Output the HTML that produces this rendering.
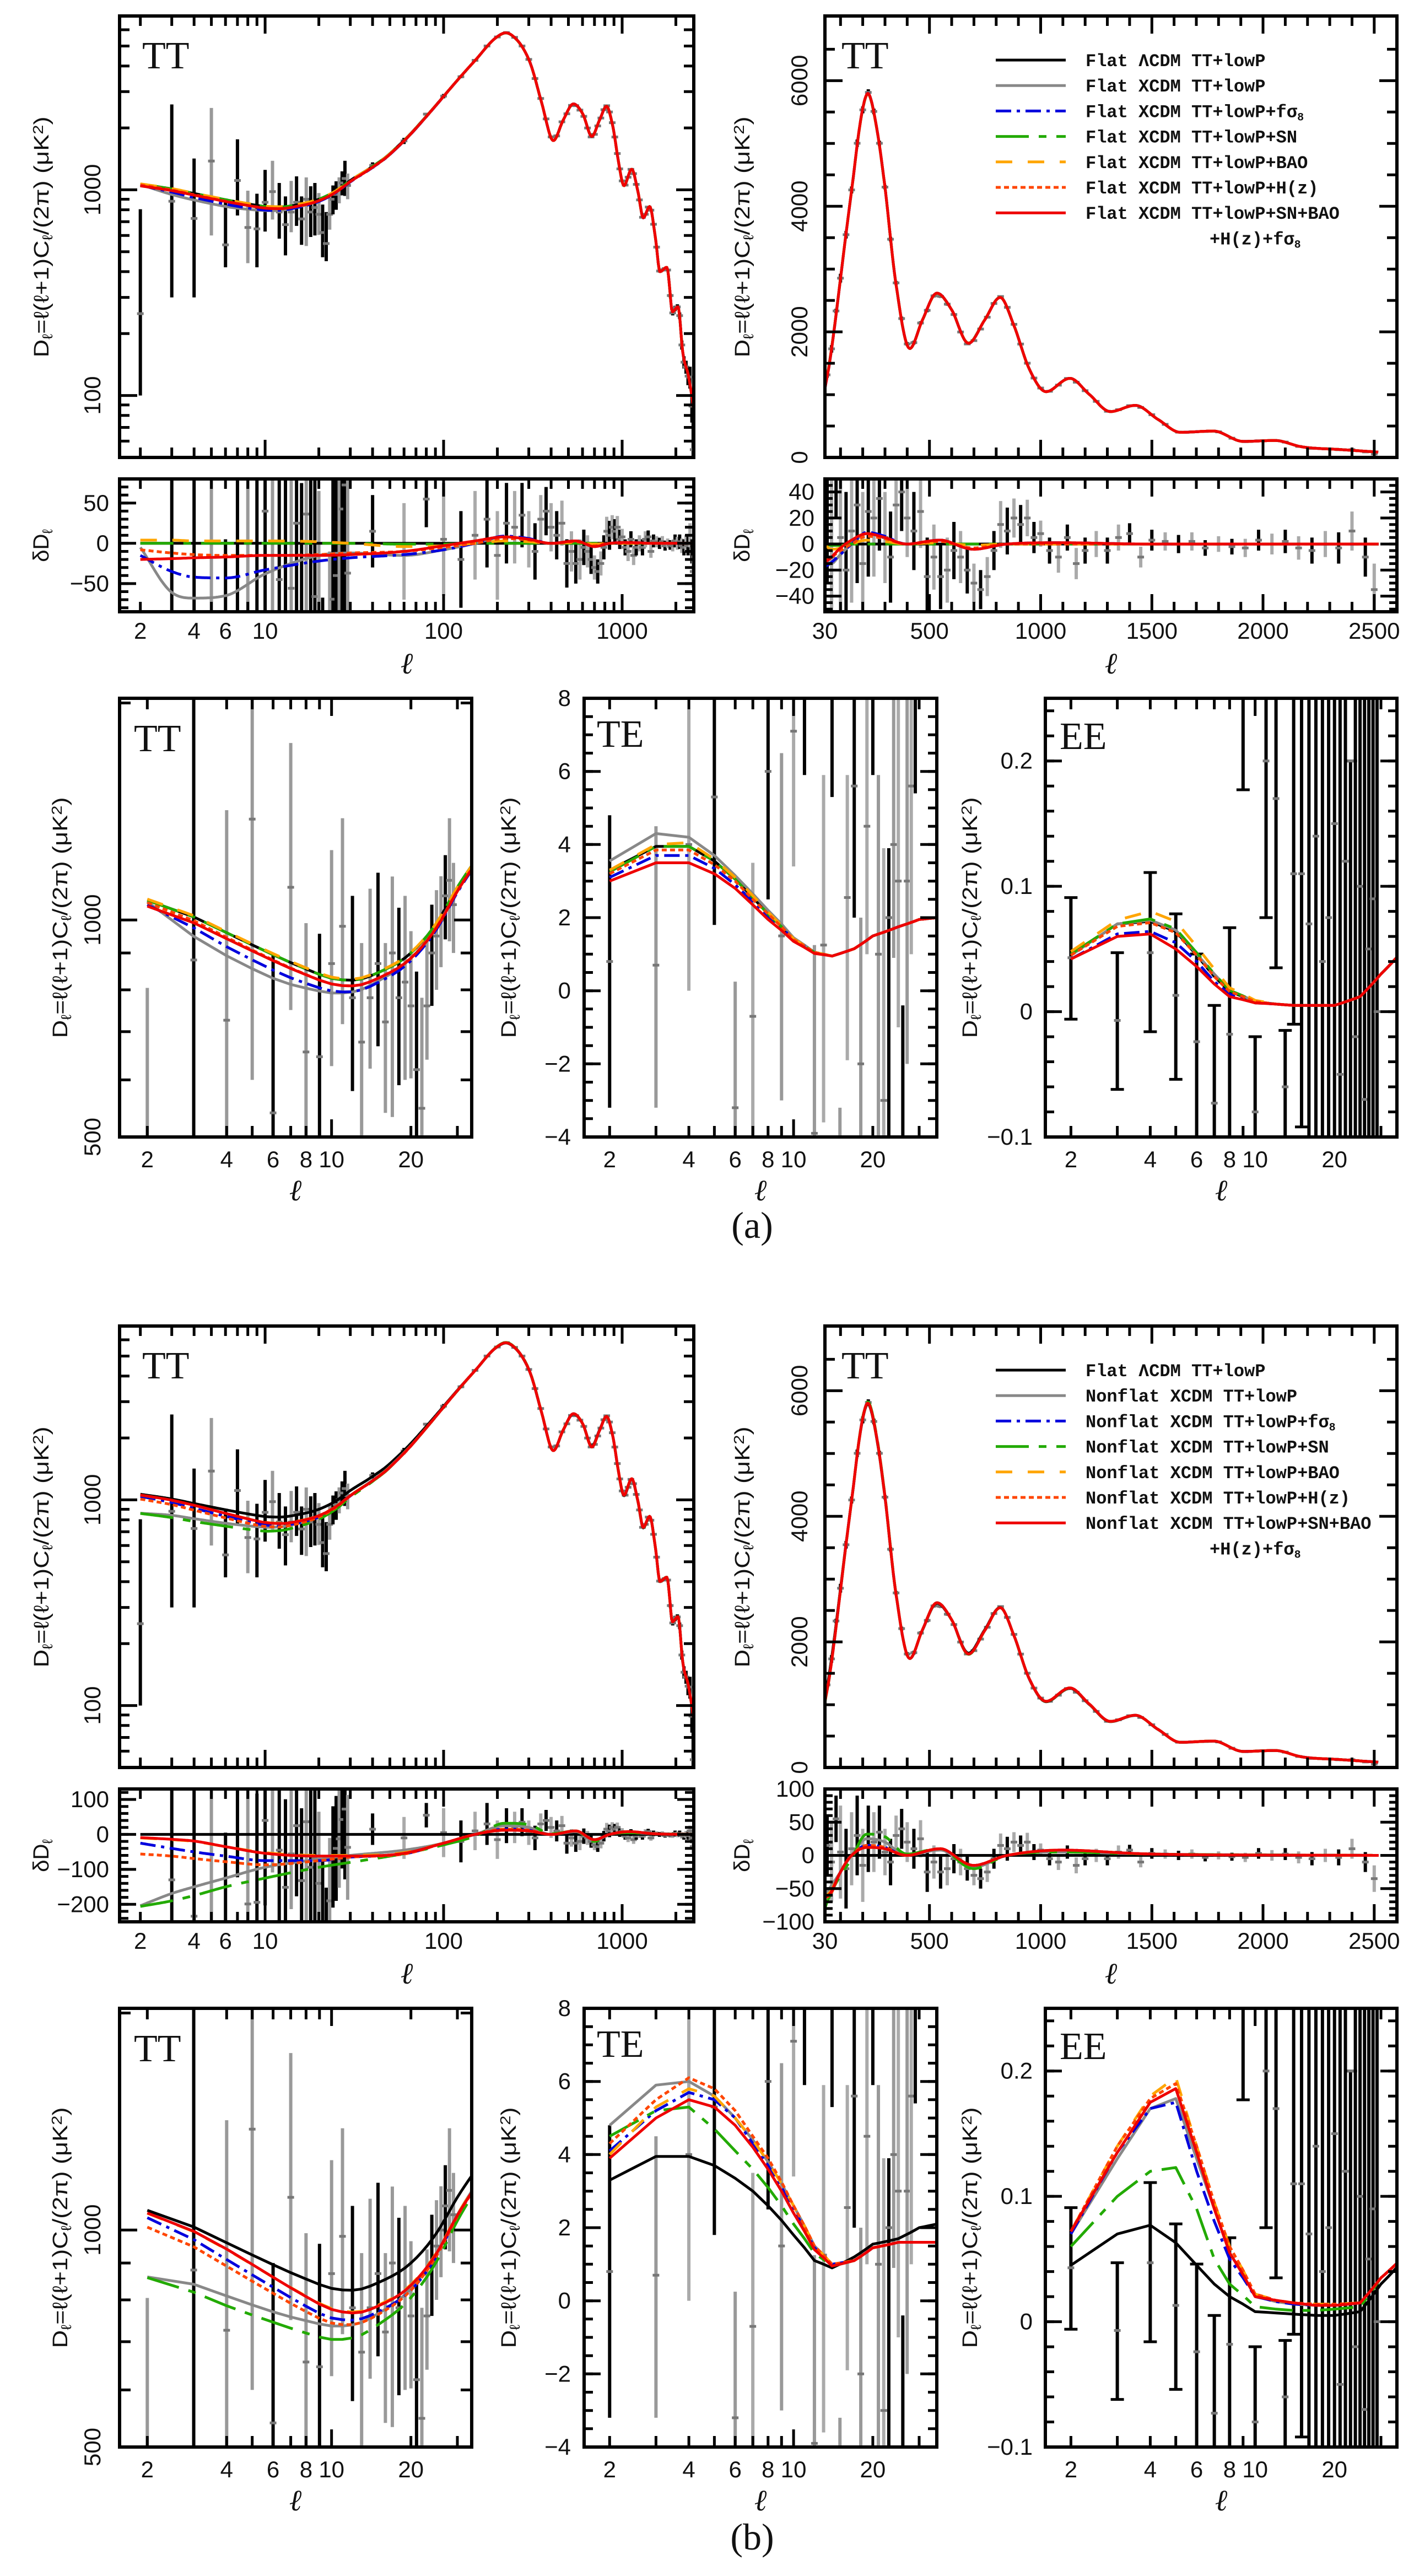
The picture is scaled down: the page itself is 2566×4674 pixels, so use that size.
<!DOCTYPE html>
<html><head><meta charset="utf-8">
<style>html,body{margin:0;padding:0;background:#fff;width:2566px;height:4674px;overflow:hidden}svg{display:block}</style>
</head><body>
<svg id="fig" xmlns="http://www.w3.org/2000/svg" width="2566" height="4674" viewBox="0 0 2566 4674">
<rect width="2566" height="4674" fill="#fff"/>
</svg>
<script>
// ---------------- DATA ----------------
const BASE_L = [2,3,4,6,8,10,12,15,20,25,30,40,50,70,100,150,200,223,260,300,350,412,470,534,600,676,750,818,880,950,1025,1132,1220,1314,1426,1530,1629,1778,1912,2054,2176,2350,2520];
const BASE_D = [1065,1010,960,895,855,830,825,845,900,990,1110,1300,1500,2000,2850,4250,5550,5790,5300,4300,2750,1735,2200,2614,2350,1821,2200,2548,2100,1400,1047,1259,1000,730,829,600,400,420,255,270,168,125,85];
const RES_L = [2,3,4,6,10,20,30,60,100,150,220,300,400,550,700,850,1100,1500,2520];
const RA_lcdm = [0,0,0,0,0,0,0,0,0,0,0,0,0,0,0,0,0,0,0];
const RA_xcdm = [-5,-61,-68,-65,-38,-15,-12,-15,-8,0,8,5,0,3,-4,0,1,0,0];
const RA_fs8  = [-15,-35,-42,-43,-33,-22,-18,-14,-8,0,9,6,0,3,-4,0,1,0,0];
const RA_sn   = [0,0,0,0,0,0,0,-1,-1,0,0,0,0,0,0,0,0,0,0];
const RA_bao  = [4,4,3,3,3,2,0,-4,-3,0,3,2,0,1,-1,0,0,0,0];
const RA_hz   = [-8,-12,-14,-15,-15,-14,-12,-10,-5,0,6,4,0,2,-3,0,0,0,0];
const RA_all  = [-20,-19,-18,-17,-15,-15,-14,-10,-3,3,8,5,0,3,-4,0,1,0,0];
const RB_lcdm = [0,0,0,0,0,0,0,0,0,0,0,0,0,0,0,0,0,0,0];
const RB_xcdm = [-204,-169,-150,-125,-94,-71,-60,-45,-25,0,25,20,0,8,-18,0,5,2,0];
const RB_fs8  = [-25,-40,-50,-62,-75,-75,-65,-56,-25,0,15,12,0,10,-15,0,8,2,0];
const RB_sn   = [-206,-190,-175,-150,-125,-94,-80,-55,-30,-5,32,28,2,10,-20,0,5,2,0];
const RB_bao  = [-10,-15,-20,-35,-52,-60,-60,-52,-25,0,12,10,0,10,-15,0,8,2,0];
const RB_hz   = [-56,-62,-69,-78,-87,-75,-65,-56,-25,0,15,12,0,10,-15,0,8,2,0];
const RB_all  = [-9,-14,-19,-35,-54,-62,-62,-54,-25,0,12,10,0,10,-15,0,8,2,0];
const RD_L = [40,60,80,100,125,150,175,200,225,250,275,300,325,350,375,400,430,460,490,520,550,580,610,640,670,700,730,760,790,820,850,880,910,940,970,1000,1040,1080,1120,1160,1200,1250,1300,1350,1400,1450,1500,1560,1620,1680,1740,1800,1860,1920,1980,2040,2100,2160,2220,2280,2340,2400,2460,2500];
const RD_V = [15,-10,55,5,-20,10,30,-15,25,20,35,5,-10,30,40,20,10,25,-25,-10,-25,-20,-5,-10,-20,-30,-35,-25,-5,15,10,20,15,20,5,8,-5,-10,5,-15,-5,0,-5,5,8,-10,3,2,0,2,-3,0,-2,-3,3,0,2,-3,-5,0,-3,10,-10,-35];
const RD_E = [45,60,35,70,60,55,60,55,50,45,40,35,35,30,30,30,30,28,30,25,25,25,22,20,18,15,15,15,15,18,18,15,15,14,12,10,10,12,10,12,10,10,10,10,8,8,8,7,7,7,6,6,6,7,8,8,9,9,10,10,12,15,15,20];
const TL_L  = [2,3,4,5,6,7,8,9,10,11,12,13,14,15,16,17,18,19,20,21,22,23,24,25,26,27,28,29];
const TL_V  = [250,880,726,1380,540,1110,656,646,870,980,780,677,780,870,722,900,780,820,760,620,548,760,900,950,1000,1080,1135,1050];
const TL_LO = [100,300,300,600,420,750,440,420,627,717,579,480,622,668,540,533,590,600,603,470,450,640,760,800,860,940,934,900];
const TL_HI = [805,2600,1420,2500,900,1760,990,957,1250,1384,1080,929,1105,1163,929,1149,1040,1080,965,848,780,940,1050,1100,1150,1230,1384,1200];
const TE_L  = [2,3,4,5,6,7,8,9,10,11,12,13,14,15,16,17,18,19,20,21,22,23,24,25,26,27,28,29];
const TE_V  = [0.8,0.7,4.0,5.3,-3.2,-0.7,6.0,1.5,7.1,9.5,-3.9,1.25,8.5,-5,2.55,5.6,-2,4.5,8,1,-3,2,4,3,-4,3,5.6,8];
const TE_LO = [-3.2,-3.2,0.0,1.8,-5,-5,2.5,-3,3.4,5.9,-6,-3.6,5.3,-8,-1.9,2,-6,1,5.9,-4,-6,-5,0.9,-1,-6,-2,1,5.4];
const TE_HI = [4.8,4.5,7.7,9,0.25,3.5,9,6.5,9,12,1.25,5.9,12,-3.2,5.9,10,2,10,12,5.9,3.9,3.9,10,10,-0.4,10,10,12];
const EE_L  = [2,3,4,5,6,7,8,9,10,11,12,13,14,15,16,17,18,19,20,21,22,23,24,25,26,27,28,29];
const EE_V  = [0.043,-0.007,0.047,0.013,-0.024,-0.073,-0.018,0.3,-0.08,0.2,0.17,-0.06,0.11,0.11,0.07,0.14,0.04,0.075,0.15,-0.05,0.12,0.2,-0.02,0.1,-0.07,0.05,0.09,0.0];
const EE_LO = [-0.006,-0.062,-0.016,-0.054,-0.11,-0.15,-0.12,0.177,-0.2,0.075,0.035,-0.2,-0.01,-0.092,-0.15,-0.12,-0.2,-0.25,-0.1,-0.3,-0.2,-0.15,-0.3,-0.2,-0.4,-0.3,-0.3,-0.35];
const EE_HI = [0.091,0.047,0.111,0.078,0.046,0.005,0.067,0.45,-0.02,0.35,0.3,-0.015,0.3,0.3,0.3,0.35,0.35,0.35,0.4,0.4,0.4,0.2,0.4,0.4,0.45,0.5,0.5,0.5];
const PL = [2,3,4,5,6,7,8,10,12,14,17,20,25,30,35];
const TEA_lcdm = [3.3,3.95,3.95,3.55,3.05,2.55,2.1,1.4,1.05,0.95,1.15,1.5,1.75,1.95,2.0];
const TEA_xcdm = [3.55,4.3,4.2,3.7,3.15,2.65,2.2,1.45,1.05,0.95,1.15,1.5,1.75,1.95,2.0];
const TEA_fs8  = [3.1,3.7,3.7,3.35,2.9,2.45,2.05,1.4,1.05,0.95,1.15,1.5,1.75,1.95,2.0];
const TEA_sn   = [3.25,3.95,3.95,3.55,3.05,2.55,2.1,1.4,1.05,0.95,1.15,1.5,1.75,1.95,2.0];
const TEA_bao  = [3.3,4.0,4.05,3.6,3.1,2.6,2.15,1.42,1.05,0.95,1.15,1.5,1.75,1.95,2.0];
const TEA_hz   = [3.2,3.85,3.85,3.45,3.0,2.5,2.1,1.4,1.05,0.95,1.15,1.5,1.75,1.95,2.0];
const TEA_all  = [3.0,3.5,3.5,3.2,2.8,2.35,1.95,1.35,1.02,0.95,1.15,1.5,1.75,1.95,2.0];
const TEB_lcdm = [3.3,3.95,3.95,3.7,3.35,3.0,2.6,1.8,1.1,0.9,1.2,1.55,1.7,2.0,2.1];
const TEB_xcdm = [4.8,5.9,6.0,5.6,5.0,4.4,3.8,2.6,1.5,1.0,1.1,1.45,1.6,1.6,1.6];
const TEB_fs8  = [4.1,5.2,5.7,5.5,5.0,4.3,3.7,2.5,1.45,1.0,1.1,1.45,1.6,1.6,1.6];
const TEB_sn   = [4.5,5.2,5.3,4.7,4.1,3.6,3.1,2.1,1.3,0.95,1.1,1.45,1.6,1.6,1.6];
const TEB_bao  = [4.0,5.3,5.8,5.6,5.0,4.4,3.8,2.6,1.5,1.0,1.1,1.45,1.6,1.6,1.6];
const TEB_hz   = [4.3,5.5,6.1,5.8,5.2,4.5,3.9,2.6,1.5,1.0,1.1,1.45,1.6,1.6,1.6];
const TEB_all  = [3.9,5.0,5.5,5.3,4.8,4.2,3.6,2.4,1.4,0.95,1.1,1.45,1.6,1.6,1.6];
const EEA_lcdm = [0.045,0.07,0.072,0.064,0.045,0.028,0.016,0.008,0.006,0.005,0.005,0.005,0.012,0.03,0.045];
const EEA_xcdm = [0.045,0.07,0.073,0.065,0.046,0.03,0.017,0.008,0.006,0.005,0.005,0.005,0.012,0.03,0.045];
const EEA_fs8  = [0.042,0.062,0.064,0.055,0.04,0.024,0.014,0.007,0.006,0.005,0.005,0.005,0.012,0.03,0.045];
const EEA_sn   = [0.046,0.07,0.074,0.066,0.047,0.03,0.017,0.008,0.006,0.005,0.005,0.005,0.012,0.03,0.045];
const EEA_bao  = [0.048,0.073,0.08,0.072,0.052,0.034,0.019,0.009,0.006,0.005,0.005,0.005,0.012,0.03,0.045];
const EEA_hz   = [0.045,0.068,0.071,0.063,0.045,0.028,0.016,0.008,0.006,0.005,0.005,0.005,0.012,0.03,0.045];
const EEA_all  = [0.042,0.06,0.062,0.05,0.036,0.022,0.012,0.007,0.006,0.005,0.005,0.005,0.012,0.03,0.045];
const EEB_lcdm = [0.045,0.07,0.077,0.063,0.045,0.03,0.02,0.008,0.007,0.006,0.005,0.005,0.008,0.03,0.045];
const EEB_xcdm = [0.07,0.13,0.17,0.178,0.13,0.09,0.055,0.02,0.016,0.014,0.013,0.013,0.015,0.035,0.048];
const EEB_fs8  = [0.07,0.135,0.17,0.175,0.12,0.08,0.05,0.02,0.016,0.014,0.013,0.013,0.015,0.035,0.048];
const EEB_sn   = [0.06,0.1,0.12,0.123,0.09,0.05,0.03,0.012,0.01,0.009,0.009,0.01,0.012,0.035,0.048];
const EEB_bao  = [0.072,0.14,0.18,0.195,0.14,0.095,0.06,0.022,0.017,0.015,0.014,0.014,0.015,0.035,0.048];
const EEB_hz   = [0.072,0.14,0.178,0.19,0.14,0.095,0.06,0.022,0.017,0.015,0.014,0.014,0.015,0.035,0.048];
const EEB_all  = [0.072,0.135,0.175,0.186,0.135,0.09,0.055,0.02,0.017,0.015,0.013,0.013,0.015,0.035,0.048];
const LEG_A = ['Flat ΛCDM TT+lowP','Flat XCDM TT+lowP','Flat XCDM TT+lowP+fσ','Flat XCDM TT+lowP+SN','Flat XCDM TT+lowP+BAO','Flat XCDM TT+lowP+H(z)','Flat XCDM TT+lowP+SN+BAO'];
const LEG_B = ['Flat ΛCDM TT+lowP','Nonflat XCDM TT+lowP','Nonflat XCDM TT+lowP+fσ','Nonflat XCDM TT+lowP+SN','Nonflat XCDM TT+lowP+BAO','Nonflat XCDM TT+lowP+H(z)','Nonflat XCDM TT+lowP+SN+BAO'];
const TL_TOPL_X = [2,4,6,10,100,1000];
const TL_TOPR_X = [30,500,1000,1500,2000,2500];
const TL_BOT_X = [2,4,6,8,10,20];

// ---------------- STYLES ----------------
const MKEYS = ['lcdm','xcdm','fs8','sn','bao','hz','all'];
const STY = {
  lcdm:{c:'#000',d:null}, xcdm:{c:'#888',d:null}, fs8:{c:'#0000dd',d:'28 10 6 10'},
  sn:{c:'#22aa00',d:'60 18 14 18'}, bao:{c:'#ffa500',d:'30 28'}, hz:{c:'#ff4500',d:'9 6'}, all:{c:'#ee0000',d:null}
};
const RES = {a:{lcdm:RA_lcdm,xcdm:RA_xcdm,fs8:RA_fs8,sn:RA_sn,bao:RA_bao,hz:RA_hz,all:RA_all},
             b:{lcdm:RB_lcdm,xcdm:RB_xcdm,fs8:RB_fs8,sn:RB_sn,bao:RB_bao,hz:RB_hz,all:RB_all}};
const TEM = {a:{lcdm:TEA_lcdm,xcdm:TEA_xcdm,fs8:TEA_fs8,sn:TEA_sn,bao:TEA_bao,hz:TEA_hz,all:TEA_all},
             b:{lcdm:TEB_lcdm,xcdm:TEB_xcdm,fs8:TEB_fs8,sn:TEB_sn,bao:TEB_bao,hz:TEB_hz,all:TEB_all}};
const EEM = {a:{lcdm:EEA_lcdm,xcdm:EEA_xcdm,fs8:EEA_fs8,sn:EEA_sn,bao:EEA_bao,hz:EEA_hz,all:EEA_all},
             b:{lcdm:EEB_lcdm,xcdm:EEB_xcdm,fs8:EEB_fs8,sn:EEB_sn,bao:EEB_bao,hz:EEB_hz,all:EEB_all}};

// ---------------- HELPERS ----------------
const NS='http://www.w3.org/2000/svg';
const svg=document.getElementById('fig');
function mk(tag,attrs,parent){const e=document.createElementNS(NS,tag);for(const k in attrs)e.setAttribute(k,attrs[k]);(parent||svg).appendChild(e);return e;}
const defs=mk('defs',{});
function logS(d0,d1,r0,r1){const a=Math.log10(d0),b=Math.log10(d1);return v=>r0+(Math.log10(v)-a)/(b-a)*(r1-r0);}
function linS(d0,d1,r0,r1){return v=>r0+(v-d0)/(d1-d0)*(r1-r0);}
function mono(xs,ys){
  const n=xs.length,d=[],m=[];
  for(let i=0;i<n-1;i++)d[i]=(ys[i+1]-ys[i])/(xs[i+1]-xs[i]);
  m[0]=d[0];m[n-1]=d[n-2];
  for(let i=1;i<n-1;i++)m[i]=(d[i-1]*d[i]<=0)?0:(d[i-1]+d[i])/2;
  for(let i=0;i<n-1;i++){
    if(d[i]===0){m[i]=0;m[i+1]=0;continue;}
    const a=m[i]/d[i],b=m[i+1]/d[i],s=a*a+b*b;
    if(s>9){const t=3/Math.sqrt(s);m[i]=t*a*d[i];m[i+1]=t*b*d[i];}
  }
  return x=>{
    if(x<=xs[0])return ys[0]; if(x>=xs[n-1])return ys[n-1];
    let i=0;while(x>xs[i+1])i++;
    const h=xs[i+1]-xs[i],t=(x-xs[i])/h,t2=t*t,t3=t2*t;
    return (2*t3-3*t2+1)*ys[i]+(t3-2*t2+t)*h*m[i]+(-2*t3+3*t2)*ys[i+1]+(t3-t2)*h*m[i+1];
  };
}
const baseF=(()=>{const f=mono(BASE_L.map(Math.log10),BASE_D);return l=>f(Math.log10(l));})();
function resF(arr){const f=mono(RES_L.map(Math.log10),arr);return l=>f(Math.log10(l));}
function linInterp(xs,ys){return x=>{if(x<=xs[0])return ys[0];const n=xs.length;if(x>=xs[n-1])return ys[n-1];let i=0;while(x>xs[i+1])i++;const t=(x-xs[i])/(xs[i+1]-xs[i]);return ys[i]+t*(ys[i+1]-ys[i]);};}

let clipN=0;
function panel(name,x0,x1,y0,y1,sx,sy){
  const g=mk('g',{});
  
  
  const id='clip'+(clipN++);
  const cp=mk('clipPath',{id:id},defs);
  mk('rect',{x:x0,y:y0,width:x1-x0,height:y1-y0},cp);
  const inner=mk('g',{'clip-path':'url(#'+id+')'},g);
  
  
  return {g,inner,x0,x1,y0,y1,sx,sy,name};
}
function frame(P){
  const r=mk('rect',{x:P.x0,y:P.y0,width:P.x1-P.x0,height:P.y1-P.y0,fill:'none',stroke:'#000','stroke-width':6},P.g);
  
  
}
function xticks(P,vals,len){
  let d='';for(const v of vals){const x=P.sx(v);if(x<P.x0+2||x>P.x1-2)continue;d+='M'+x.toFixed(1)+' '+P.y1+'v'+(-len)+'M'+x.toFixed(1)+' '+P.y0+'v'+len;}
  const p=mk('path',{d:d,stroke:'#000','stroke-width':5,fill:'none'},P.g);
  
  
}
function yticks(P,vals,len){
  let d='';for(const v of vals){const y=P.sy(v);if(y<P.y0+2||y>P.y1-2)continue;d+='M'+P.x0+' '+y.toFixed(1)+'h'+len+'M'+P.x1+' '+y.toFixed(1)+'h'+(-len);}
  const p=mk('path',{d:d,stroke:'#000','stroke-width':5,fill:'none'},P.g);
  
  
}
function fmt(v){return (v<0?'−':'')+String(Math.abs(v));}
function xlabels(P,vals,yb){
  for(const v of vals){
    const t=mk('text',{x:P.sx(v).toFixed(1),y:yb,'text-anchor':'middle','font-family':'Liberation Sans, sans-serif','font-size':42,fill:'#111'},P.g);
    t.textContent=fmt(v);
    
    
  }
}
function ylabelsH(P,vals,xr){
  for(const v of vals){
    const t=mk('text',{x:xr,y:(P.sy(v)+14).toFixed(1),'text-anchor':'end','font-family':'Liberation Sans, sans-serif','font-size':42,fill:'#111'},P.g);
    t.textContent=fmt(v);
    
    
  }
}
function ylabelsR(P,vals,xc){
  for(const v of vals){
    const y=P.sy(v);
    const t=mk('text',{x:0,y:0,transform:'translate('+(xc+14)+','+y.toFixed(1)+') rotate(-90)','text-anchor':'middle','font-family':'Liberation Sans, sans-serif','font-size':42,fill:'#111'},P.g);
    t.textContent=fmt(v);
    
    
  }
}
function clampY(P,y){return Math.max(P.y0-4,Math.min(P.y1+4,y));}
function curve(P,pts,key,w){
  const s=STY[key];let d='';
  pts.forEach((p,i)=>{d+=(i?'L':'M')+P.sx(p[0]).toFixed(1)+' '+clampY(P,P.sy(p[1])).toFixed(1);});
  const a={d:d,fill:'none',stroke:s.c,'stroke-width':w||5,'stroke-linejoin':'round'};
  if(s.d)a['stroke-dasharray']=s.d;
  const p=mk('path',a,P.inner);
  
  
}
function ebar(P,l,v,lo,hi,col,cap){
  const x=P.sx(l);
  const raw1=P.sy(lo),raw2=P.sy(hi),rawc=P.sy(v);
  const ya=clampY(P,raw1),yb=clampY(P,raw2),yc=clampY(P,rawc);
  const b=mk('line',{x1:x,x2:x,y1:ya,y2:yb,stroke:col,'stroke-width':6},P.inner);
  
  
  if(cap){
    let d='';
    if(raw1===ya)d+='M'+(x-12)+' '+ya+'h24';
    if(raw2===yb)d+='M'+(x-12)+' '+yb+'h24';
    if(d){
      const c=mk('path',{d:d,stroke:col,'stroke-width':5},P.inner);
      
      
    }
  }
  if(rawc===yc){
    const m=mk('line',{x1:x-6,x2:x+6,y1:yc,y2:yc,stroke:'#777','stroke-width':5},P.inner);
    
    
  }
}
function txt(str,attrs,name){const t=mk('text',attrs);t.textContent=str;return t;}
function range(a,b,s){const r=[];for(let v=a;v<=b+1e-9;v+=s)r.push(+v.toFixed(4));return r;}
function ytitle(xc,yc,len){
  const t=mk('text',{x:0,y:0,transform:'translate('+xc+','+yc+') rotate(-90)','text-anchor':'middle','font-family':'Liberation Sans, sans-serif','font-size':38,fill:'#111',textLength:len,lengthAdjust:'spacingAndGlyphs'});
  
  
  const parts=[['D',0],['ℓ',1],['=ℓ(ℓ+1)C',0],['ℓ',1],['/(2π)  (μK',0],['2',2],[')',0]];
  for(const [s,k] of parts){const sp=mk('tspan',{},t);sp.textContent=s;if(k===1){sp.setAttribute('baseline-shift','-25%');sp.setAttribute('font-size','26');}if(k===2){sp.setAttribute('baseline-shift','40%');sp.setAttribute('font-size','26');}}
}
function dtitle(xc,yc){
  const t=mk('text',{x:0,y:0,transform:'translate('+xc+','+yc+') rotate(-90)','text-anchor':'middle','font-family':'Liberation Sans, sans-serif','font-size':40,fill:'#111'});
  
  
  const a=mk('tspan',{},t);a.textContent='δD';
  const b=mk('tspan',{'baseline-shift':'-25%','font-size':26},t);b.textContent='ℓ';
}
function ell(xc,yb){txt('ℓ',{x:xc,y:yb,'text-anchor':'middle','font-family':'Liberation Serif, serif','font-style':'italic','font-size':54,fill:'#111'},'x-axis-title');}
function plabel(s,x,yb){txt(s,{x:x,y:yb,'font-family':'Liberation Serif, serif','font-size':70,fill:'#111'},'panel-label-'+s.toLowerCase());}

// ---------------- BUILD ----------------
function build(key,oy){
  const R=RES[key];
  const rf={};MKEYS.forEach(k=>rf[k]=resF(R[k]));
  const A=panel('tt-log-panel-'+key,217,1259,29+oy,830+oy,logS(1.53,2520,217,1259),logS(50,7000,830+oy,29+oy));
  TL_L.forEach((l,i)=>ebar(A,l,TL_V[i],TL_LO[i],TL_HI[i],(i%3===0&&i>0)?'#999':'#000',false));
  RD_L.forEach((l,i)=>{const b=baseF(l);ebar(A,l,b+RD_V[i],b+RD_V[i]-RD_E[i],b+RD_V[i]+RD_E[i],'#000',false);});
  MKEYS.forEach(k=>{const pts=[];for(let i=0;i<=700;i++){const l=2*Math.pow(2520/2,i/700);pts.push([l,baseF(l)+rf[k](l)]);}curve(A,pts,k);});
  frame(A);
  xticks(A,[10,100,1000],32);
  xticks(A,[2,3,4,5,6,7,8,9,20,30,40,50,60,70,80,90,200,300,400,500,600,700,800,900,2000],18);
  yticks(A,[100,1000],32);
  yticks(A,[60,70,80,90,200,300,400,500,600,700,800,900,2000,3000,4000,5000,6000],18);
  ylabelsR(A,[100,1000],168);
  plabel('TT',258,124+oy);
  ytitle(88,430+oy,437);
  const rl=key==='a'?[-85,80]:[-250,130];
  const B=panel('tt-residual-log-panel-'+key,217,1259,869+oy,1110+oy,A.sx,linS(rl[0],rl[1],1110+oy,869+oy));
  TL_L.forEach((l,i)=>{const b=baseF(l);ebar(B,l,TL_V[i]-b,TL_LO[i]-b,TL_HI[i]-b,i%3===0?'#999':'#000',false);});
  RD_L.forEach((l,i)=>ebar(B,l,RD_V[i],RD_V[i]-RD_E[i],RD_V[i]+RD_E[i],i%2?'#aaa':'#000',false));
  MKEYS.forEach(k=>{const pts=[];for(let i=0;i<=500;i++){const l=2*Math.pow(2520/2,i/500);pts.push([l,rf[k](l)]);}curve(B,pts,k);});
  frame(B);
  xticks(B,[10,100,1000],32);
  xticks(B,[2,3,4,5,6,7,8,9,20,30,40,50,60,70,80,90,200,300,400,500,600,700,800,900,2000],18);
  if(key==='a'){yticks(B,[-50,0,50],30);yticks(B,range(-80,80,10),16);ylabelsH(B,[-50,0,50],198);}
  else{yticks(B,[-200,-100,0,100],30);yticks(B,range(-240,120,20),16);ylabelsH(B,[-200,-100,0,100],198);}
  xlabels(B,TL_TOPL_X,1159+oy);
  dtitle(88,990+oy);
  ell(738,1222+oy);
  const C=panel('tt-linear-panel-'+key,1497,2535,29+oy,830+oy,linS(30,2602,1497,2535),linS(0,7030,830+oy,29+oy));
  RD_L.forEach((l,i)=>{const b=baseF(l);ebar(C,l,b+RD_V[i],b+RD_V[i]-RD_E[i],b+RD_V[i]+RD_E[i],'#000',false);});
  MKEYS.forEach(k=>{const pts=[];for(let l=30;l<=2520;l+=4)pts.push([l,baseF(l)+rf[k](l)]);curve(C,pts,k);});
  frame(C);
  xticks(C,[500,1000,1500,2000,2500],32);
  xticks(C,range(100,2600,100).filter(v=>v%500),18);
  yticks(C,[0,2000,4000,6000],32);
  yticks(C,range(500,6500,500).filter(v=>v%2000),18);
  ylabelsR(C,[0,2000,4000,6000],1451);
  plabel('TT',1527,124+oy);
  ytitle(1360,430+oy,437);
  const LEG=key==='a'?LEG_A:LEG_B;
  const lg=mk('g',{});
  
  
  LEG.forEach((s,i)=>{
    const y=109+oy+i*46.2;const st=STY[MKEYS[i]];
    const la={x1:1807,x2:1934,y1:y,y2:y,stroke:st.c,'stroke-width':5};if(st.d)la['stroke-dasharray']=st.d;
    const ln=mk('line',la,lg);
    
    
    const t=mk('text',{x:1970,y:y+11,'font-family':'Liberation Mono, monospace','font-weight':'bold','font-size':32,fill:'#111'},lg);
    t.textContent=s;
    
    
    if(i===2){const sb=mk('tspan',{'baseline-shift':'-30%','font-size':20},t);sb.textContent='8';}
  });
  const t2=mk('text',{x:2195,y:109+oy+7*46.2+11,'font-family':'Liberation Mono, monospace','font-weight':'bold','font-size':32,fill:'#111'},lg);
  t2.textContent='+H(z)+fσ';
  
  
  const sb2=mk('tspan',{'baseline-shift':'-30%','font-size':20},t2);sb2.textContent='8';
  const rr=key==='a'?[-52,50]:[-100,100];
  const D=panel('tt-residual-linear-panel-'+key,1497,2535,869+oy,1110+oy,C.sx,linS(rr[0],rr[1],1110+oy,869+oy));
  RD_L.forEach((l,i)=>ebar(D,l,RD_V[i],RD_V[i]-RD_E[i],RD_V[i]+RD_E[i],i%2?'#aaa':'#000',false));
  MKEYS.forEach(k=>{const pts=[];for(let l=30;l<=2520;l+=5)pts.push([l,rf[k](l)]);curve(D,pts,k);});
  frame(D);
  xticks(D,[500,1000,1500,2000,2500],32);
  xticks(D,range(100,2600,100).filter(v=>v%500),18);
  if(key==='a'){yticks(D,[-40,-20,0,20,40],30);yticks(D,range(-50,50,5),14);ylabelsH(D,[-40,-20,0,20,40],1478);}
  else{yticks(D,[-100,-50,0,50,100],30);yticks(D,range(-100,100,10),14);ylabelsH(D,[-100,-50,0,50,100],1478);}
  xlabels(D,TL_TOPR_X,1159+oy);
  dtitle(1360,990+oy);
  ell(2016,1222+oy);
  const E=panel('tt-lowell-panel-'+key,217,856,1267+oy,2063+oy,logS(1.57,34,217,856),logS(500,2030,2063+oy,1267+oy));
  TL_L.forEach((l,i)=>ebar(E,l,TL_V[i],TL_LO[i],TL_HI[i],i%3===1?'#000':'#999',false));
  MKEYS.forEach(k=>{const pts=[];for(let l=2;l<=35;l++)pts.push([l,baseF(l)+rf[k](l)]);curve(E,pts,k);});
  frame(E);
  xticks(E,[10],32);xticks(E,[2,3,4,5,6,7,8,9,20,30],20);
  yticks(E,[500,1000],32);yticks(E,[600,700,800,900,2000],20);
  ylabelsR(E,[500,1000],168);
  xlabels(E,TL_BOT_X,2118+oy);
  plabel('TT',243,1363+oy);
  ytitle(122,1665+oy,437);
  ell(536,2178+oy);
  const TM=TEM[key];
  const F=panel('te-lowell-panel-'+key,1060,1700,1267+oy,2063+oy,logS(1.6,35,1060,1700),linS(-4,8,2063+oy,1267+oy));
  TE_L.forEach((l,i)=>ebar(F,l,TE_V[i],TE_LO[i],TE_HI[i],i%3===1?'#999':(i%3===0?'#000':'#aaa'),false));
  MKEYS.forEach(k=>{const f=linInterp(PL,TM[k]);const pts=[];for(let l=2;l<=35;l++)pts.push([l,f(l)]);curve(F,pts,k);});
  frame(F);
  xticks(F,[10],32);xticks(F,[2,3,4,5,6,7,8,9,20,30],20);
  yticks(F,[-4,-2,0,2,4,6,8],30);yticks(F,range(-4,8,0.5),16);
  ylabelsH(F,[-4,-2,0,2,4,6,8],1036);
  xlabels(F,TL_BOT_X,2118+oy);
  plabel('TE',1083,1355+oy);
  ytitle(936,1665+oy,437);
  ell(1380,2178+oy);
  const EM=EEM[key];
  const G=panel('ee-lowell-panel-'+key,1897,2535,1267+oy,2063+oy,logS(1.6,34.5,1897,2535),linS(-0.1,0.25,2063+oy,1267+oy));
  EE_L.forEach((l,i)=>ebar(G,l,EE_V[i],EE_LO[i],EE_HI[i],'#000',true));
  MKEYS.forEach(k=>{const f=linInterp(PL,EM[k]);const pts=[];for(let l=2;l<=35;l++)pts.push([l,f(l)]);curve(G,pts,k);});
  frame(G);
  xticks(G,[10],32);xticks(G,[2,3,4,5,6,7,8,9,20,30],20);
  yticks(G,[-0.1,0,0.1,0.2],30);yticks(G,range(-0.1,0.24,0.02),16);
  ylabelsH(G,[-0.1,0,0.1,0.2],1874);
  xlabels(G,TL_BOT_X,2118+oy);
  plabel('EE',1923,1359+oy);
  ytitle(1773,1665+oy,437);
  ell(2216,2178+oy);
}
build('a',0);
build('b',2377);
txt('(a)',{x:1365,y:2246,'text-anchor':'middle','font-family':'Liberation Serif, serif','font-size':68,fill:'#111'},'subfigure-label-a');
txt('(b)',{x:1365,y:4626,'text-anchor':'middle','font-family':'Liberation Serif, serif','font-size':68,fill:'#111'},'subfigure-label-b');
</script>
</body></html>
